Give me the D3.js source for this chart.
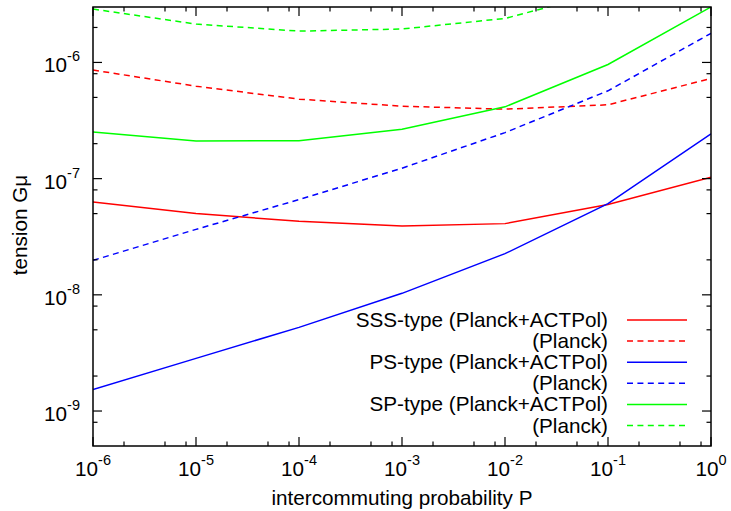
<!DOCTYPE html>
<html>
<head>
<meta charset="utf-8">
<script src="https://cdn.jsdelivr.net/npm/d3@7"></script>
<style>
  html, body { margin: 0; padding: 0; background: #fff; }
  svg { display: block; }
  text { font-family: "Liberation Sans", Arial, Helvetica, sans-serif; fill: #000; }
</style>
</head>
<body>
<svg id="chart" width="731" height="511"></svg>
<script>
// Intercommuting probability grid (one point per decade)
const probability = [1e-6, 1e-5, 1e-4, 1e-3, 1e-2, 1e-1, 1e0];

// Upper bounds on string tension Gμ for each network type and data set
const sssActpol = [6.3e-8, 5.0e-8, 4.3e-8, 3.92e-8, 4.1e-8, 6.0e-8, 1.03e-7];
const sssPlanck = [8.6e-7, 6.25e-7, 4.83e-7, 4.2e-7, 3.96e-7, 4.32e-7, 7.28e-7];
const psActpol  = [1.53e-9, 2.84e-9, 5.25e-9, 1.03e-8, 2.26e-8, 6.1e-8, 2.43e-7];
const psPlanck  = [1.98e-8, 3.66e-8, 6.6e-8, 1.23e-7, 2.49e-7, 5.7e-7, 1.78e-6];
const spActpol  = [2.52e-7, 2.11e-7, 2.12e-7, 2.66e-7, 4.15e-7, 9.6e-7, 3.0e-6];
const spPlanck  = [2.88e-6, 2.14e-6, 1.86e-6, 1.94e-6, 2.39e-6, 4.1e-6, 8.0e-6];

// Legend entries
const seriesLabels = [
  "SSS-type (Planck+ACTPol)", "(Planck)",
  "PS-type (Planck+ACTPol)", "(Planck)",
  "SP-type (Planck+ACTPol)", "(Planck)"
];

// Axis ticks
const xMajorExp = [-6, -5, -4, -3, -2, -1, 0];
const yMajorExp = [-9, -8, -7, -6];
const minorMantissa = [2, 5, 8];

const xTitle = "intercommuting probability P";
const yTitle = "tension Gμ";

const series = [
  { values: sssActpol, color: "#ff0000", dashed: false },
  { values: sssPlanck, color: "#ff0000", dashed: true },
  { values: psActpol,  color: "#0000ff", dashed: false },
  { values: psPlanck,  color: "#0000ff", dashed: true },
  { values: spActpol,  color: "#00ff00", dashed: false },
  { values: spPlanck,  color: "#00ff00", dashed: true }
];

const plot = { left: 93, right: 711, top: 7, bottom: 446 };
const fontSize = 20.7;
const supSize = 14.5;
const dashPattern = "6,4.4";

const svg = d3.select("#chart");

const x = d3.scaleLog().domain([1e-6, 1]).range([plot.left, plot.right]);
const y = d3.scaleLog().domain([5e-10, 3e-6]).range([plot.bottom, plot.top]);

// Clip region for the curves
svg.append("defs").append("clipPath").attr("id", "plot-clip")
  .append("rect")
  .attr("x", plot.left).attr("y", plot.top)
  .attr("width", plot.right - plot.left).attr("height", plot.bottom - plot.top);

// Data curves
const line = d3.line()
  .x((d, i) => x(probability[i]))
  .y(d => y(d));

const curves = svg.append("g").attr("clip-path", "url(#plot-clip)");
series.forEach(s => {
  curves.append("path")
    .attr("d", line(s.values))
    .attr("fill", "none")
    .attr("stroke", s.color)
    .attr("stroke-width", 1.5)
    .attr("stroke-dasharray", s.dashed ? dashPattern : null);
});

// Tick marks (mirrored on all four sides)
const ticks = svg.append("g").attr("stroke", "#000").attr("stroke-width", 1.2);
const xMinor = [];
xMajorExp.slice(0, -1).forEach(e => minorMantissa.forEach(m => xMinor.push(m * Math.pow(10, e))));
const yMinor = [];
[-10, -9, -8, -7, -6].forEach(e => minorMantissa.forEach(m => {
  const v = m * Math.pow(10, e);
  if (v > 5e-10 && v < 3e-6) yMinor.push(v);
}));

function xTick(v, len) {
  const px = x(v);
  ticks.append("line").attr("x1", px).attr("x2", px).attr("y1", plot.bottom).attr("y2", plot.bottom - len);
  ticks.append("line").attr("x1", px).attr("x2", px).attr("y1", plot.top).attr("y2", plot.top + len);
}
function yTick(v, len) {
  const py = y(v);
  ticks.append("line").attr("y1", py).attr("y2", py).attr("x1", plot.left).attr("x2", plot.left + len);
  ticks.append("line").attr("y1", py).attr("y2", py).attr("x1", plot.right).attr("x2", plot.right - len);
}
xMajorExp.forEach(e => xTick(Math.pow(10, e), 9));
xMinor.forEach(v => xTick(v, 4.5));
yMajorExp.forEach(e => yTick(Math.pow(10, e), 9));
yMinor.forEach(v => yTick(v, 4.5));

// Plot frame
svg.append("rect")
  .attr("x", plot.left).attr("y", plot.top)
  .attr("width", plot.right - plot.left).attr("height", plot.bottom - plot.top)
  .attr("fill", "none").attr("stroke", "#000").attr("stroke-width", 1.5);

// Power-of-ten labels
function powerLabel(g, e) {
  g.append("tspan").text("10");
  g.append("tspan").attr("dy", -11).attr("font-size", supSize).text(e);
}
xMajorExp.forEach(e => {
  const t = svg.append("text")
    .attr("x", x(Math.pow(10, e)))
    .attr("y", 476)
    .attr("text-anchor", "middle")
    .attr("font-size", fontSize);
  powerLabel(t, e);
});
yMajorExp.forEach(e => {
  const t = svg.append("text")
    .attr("x", 80)
    .attr("y", y(Math.pow(10, e)) + 10)
    .attr("text-anchor", "end")
    .attr("font-size", fontSize);
  powerLabel(t, e);
});

// Axis titles
svg.append("text")
  .attr("x", (plot.left + plot.right) / 2)
  .attr("y", 505)
  .attr("text-anchor", "middle")
  .attr("font-size", fontSize)
  .text(xTitle);

svg.append("text")
  .attr("transform", "translate(27,225) rotate(-90)")
  .attr("text-anchor", "middle")
  .attr("font-size", fontSize)
  .text(yTitle);

// Legend
const legend = svg.append("g");
series.forEach((s, i) => {
  const ly = 320 + i * 21.1;
  legend.append("text")
    .attr("x", 608)
    .attr("y", ly + 7)
    .attr("text-anchor", "end")
    .attr("font-size", fontSize)
    .text(seriesLabels[i]);
  legend.append("line")
    .attr("x1", 627).attr("x2", 687)
    .attr("y1", ly).attr("y2", ly)
    .attr("stroke", s.color)
    .attr("stroke-width", 1.5)
    .attr("stroke-dasharray", s.dashed ? dashPattern : null);
});
</script>
</body>
</html>
